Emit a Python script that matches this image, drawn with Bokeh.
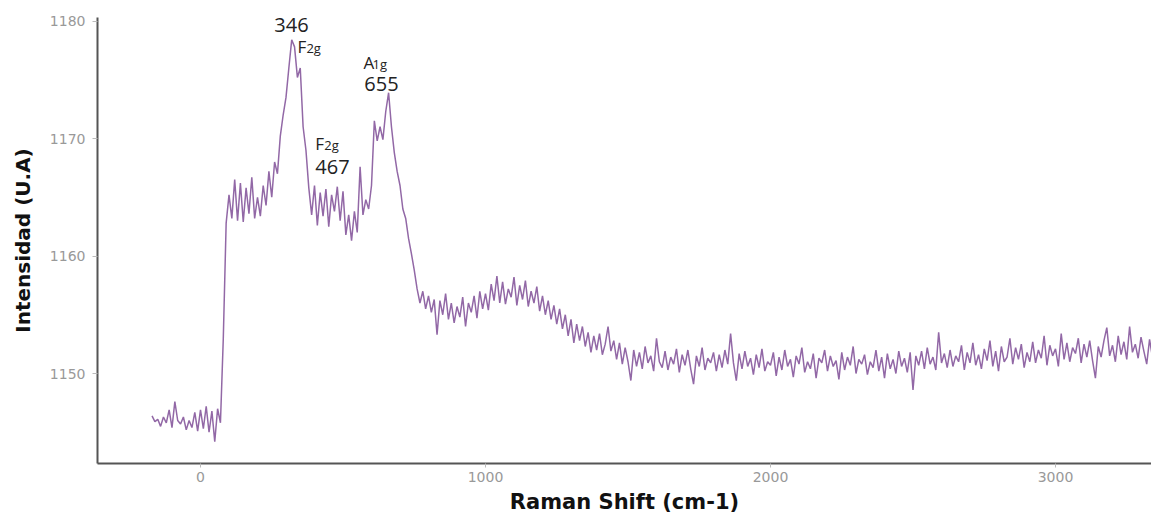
from bokeh.plotting import figure
from bokeh.models import FixedTicker, Range1d, ColumnDataSource
from bokeh.core.properties import value
from bokeh.embed import file_html
from bokeh.resources import INLINE

# ---- data ----
shift_start = -170
shift_step = 10
intensity = [
    1146.4, 1145.9, 1146.1, 1145.5, 1146.3, 1145.8, 1146.9, 1145.4, 1147.6, 1146.0,
    1145.7, 1146.3, 1145.2, 1146.0, 1145.4, 1146.7, 1145.1, 1146.9, 1145.3, 1147.2,
    1145.0, 1146.8, 1144.2, 1147.0, 1145.8, 1153.0, 1162.8, 1165.2, 1163.2, 1166.5,
    1163.0, 1166.2, 1162.9, 1165.8, 1163.6, 1166.7, 1163.2, 1165.0, 1163.4, 1166.0,
    1164.3, 1167.2, 1165.0, 1168.0, 1167.0, 1170.2, 1172.0, 1173.5, 1176.0, 1178.4,
    1177.8, 1175.2, 1176.0, 1171.0, 1169.0, 1165.8, 1163.5, 1166.0, 1162.6, 1165.4,
    1163.4, 1165.7, 1162.5, 1165.2, 1163.8, 1165.9, 1163.0, 1165.5, 1161.8, 1163.5,
    1161.3, 1163.8, 1162.0, 1167.6, 1163.5, 1164.8, 1164.0, 1166.0, 1171.5, 1169.8,
    1171.0, 1169.9, 1172.3, 1173.9, 1171.0, 1168.8, 1167.2, 1166.0, 1164.0, 1163.2,
    1161.5, 1160.2, 1158.8, 1157.2, 1156.0, 1157.0, 1155.5, 1156.6, 1155.2, 1156.3,
    1153.3, 1156.2, 1155.0, 1156.8, 1154.6, 1156.0, 1154.3, 1155.7, 1154.8, 1156.5,
    1154.0, 1156.0, 1155.2, 1156.6, 1154.7, 1157.0, 1155.5, 1156.8, 1155.4, 1157.6,
    1156.2, 1158.3, 1156.0, 1157.8, 1155.9, 1157.2, 1156.5, 1158.2, 1155.8, 1157.5,
    1156.3, 1157.9, 1155.7, 1157.0, 1156.0, 1157.4, 1155.3, 1156.6, 1155.0, 1156.2,
    1154.6, 1155.8, 1154.2, 1155.5, 1153.8, 1155.0, 1153.2, 1154.6, 1152.6, 1154.2,
    1152.8, 1154.0, 1152.3, 1153.5, 1151.8, 1153.2, 1152.0, 1153.4, 1151.6, 1152.5,
    1154.0, 1151.9, 1152.8, 1151.2, 1152.6, 1150.8, 1152.2, 1151.0, 1149.4, 1152.0,
    1150.6, 1151.8, 1150.4, 1152.3, 1150.9, 1151.5, 1150.2, 1153.0, 1151.0, 1150.5,
    1151.9, 1150.3, 1151.4, 1150.8, 1152.1, 1150.1, 1151.6, 1150.7, 1152.0, 1150.4,
    1149.1, 1151.5, 1150.6, 1152.2, 1150.3, 1151.3, 1150.9, 1151.8, 1150.2, 1151.6,
    1150.5, 1152.0, 1150.8, 1153.4, 1150.9, 1149.4, 1151.7, 1150.4, 1151.9, 1150.6,
    1151.3, 1149.9, 1151.6, 1150.5, 1152.1, 1150.2, 1151.0, 1150.7, 1151.8, 1149.8,
    1151.4, 1150.3, 1152.0, 1150.6, 1151.2, 1149.7, 1151.5, 1150.8, 1152.2, 1150.1,
    1151.0, 1150.4, 1151.7, 1149.6, 1151.3, 1150.9, 1152.0, 1150.2, 1151.5, 1150.6,
    1151.1, 1149.5, 1151.8, 1150.3, 1151.4, 1150.7, 1152.3, 1150.0, 1151.2, 1150.8,
    1151.6, 1149.9, 1151.0, 1150.5, 1152.0, 1150.2, 1151.4, 1149.6, 1151.7, 1150.4,
    1151.2, 1150.0, 1151.9, 1150.6, 1151.3, 1150.1, 1151.8, 1148.6, 1151.5, 1150.7,
    1151.9, 1150.4, 1152.2, 1150.8, 1151.4, 1150.3, 1153.5, 1150.9, 1151.7, 1150.5,
    1152.0, 1150.6, 1151.5, 1151.0, 1152.4, 1150.3, 1151.8, 1150.9, 1152.6, 1150.7,
    1151.6, 1150.4, 1152.1, 1151.1, 1152.8, 1150.6, 1151.9, 1150.2, 1152.3, 1151.0,
    1151.4, 1153.0, 1150.8, 1152.2, 1151.2, 1152.5, 1150.5, 1151.8, 1151.0, 1152.7,
    1150.9, 1152.0, 1151.3, 1153.2, 1150.7, 1152.4, 1151.5, 1152.1, 1150.6, 1153.4,
    1151.2, 1152.6, 1151.0, 1152.2, 1151.7, 1153.0, 1150.9, 1152.5, 1151.4, 1152.8,
    1151.1, 1149.6, 1152.3, 1151.4, 1152.8, 1153.9, 1151.5, 1152.4, 1151.0, 1153.2,
    1151.6, 1152.7, 1151.2, 1154.0, 1151.8, 1152.5, 1151.3, 1153.1, 1151.9, 1150.8,
    1152.9, 1151.4, 1153.6,
]
raman_shift = [shift_start + shift_step * i for i in range(len(intensity))]

x_ticks = [0, 1000, 2000, 3000]
y_ticks = [1150, 1160, 1170, 1180]

# peak annotations
peak_numbers = ["346", "467", "655"]
peak_number_x = [319, 463, 635]
peak_number_y = [1179.7, 1167.6, 1174.6]
mode_letters = ["F", "F", "A"]
mode_subs = ["2g", "2g", "1g"]
mode_x = [340, 403, 572]
mode_y = [1177.85, 1169.6, 1176.5]

LINE_COLOR = "#9268a6"

p = figure(width=1151, height=516, output_backend="svg", toolbar_location=None,
           x_range=Range1d(-361.4, 3336.8), y_range=Range1d(1142.34, 1180.3),
           min_border_left=97, min_border_right=0, min_border_top=17, min_border_bottom=53)
p.outline_line_color = None
p.grid.visible = False
p.background_fill_color = "white"
p.border_fill_color = "white"

p.line(raman_shift, intensity, line_color=LINE_COLOR, line_width=1.5)

# annotations
src_num = ColumnDataSource(dict(x=peak_number_x, y=peak_number_y, t=peak_numbers))
p.text(x="x", y="y", text="t", source=src_num, text_font=value("Open Sans"),
       text_font_size="20px", text_color="#222222", text_align="center", text_baseline="middle")
src_mode = ColumnDataSource(dict(x=mode_x, y=mode_y, t=mode_letters, s=mode_subs))
p.text(x="x", y="y", text="t", source=src_mode, text_font=value("Open Sans"),
       text_font_size="17px", text_color="#222222", text_align="left", text_baseline="middle")
p.text(x="x", y="y", text="s", source=src_mode, text_font=value("Open Sans"),
       text_font_size="13px", text_color="#222222", text_align="left", text_baseline="middle",
       x_offset=9, y_offset=2)

# axes
for ax in (p.xaxis[0], p.yaxis[0]):
    ax.axis_line_color = "#555555"
    ax.axis_line_width = 2
    ax.major_tick_line_color = "#bbbbbb"
    ax.major_tick_in = 0
    ax.minor_tick_line_color = None
    ax.major_label_text_color = "#999999"
    ax.major_label_text_font = "DejaVu Sans"
    ax.major_label_text_font_size = "14px"
    ax.axis_label_text_font = "DejaVu Sans"
    ax.axis_label_text_font_style = "bold"
    ax.axis_label_text_color = "#111111"

p.xaxis.ticker = FixedTicker(ticks=x_ticks)
p.yaxis.ticker = FixedTicker(ticks=y_ticks)
p.xaxis.major_tick_out = 4
p.yaxis.major_tick_out = 5
p.xaxis.major_label_standoff = 4
p.yaxis.major_label_standoff = 7
p.xaxis.axis_label = "Raman Shift (cm-1)"
p.yaxis.axis_label = "Intensidad (U.A)"
p.xaxis.axis_label_text_font_size = "21px"
p.yaxis.axis_label_text_font_size = "20px"
p.xaxis.axis_label_standoff = 5
p.yaxis.axis_label_standoff = 12

open("out.html", "w").write(file_html(p, INLINE))
